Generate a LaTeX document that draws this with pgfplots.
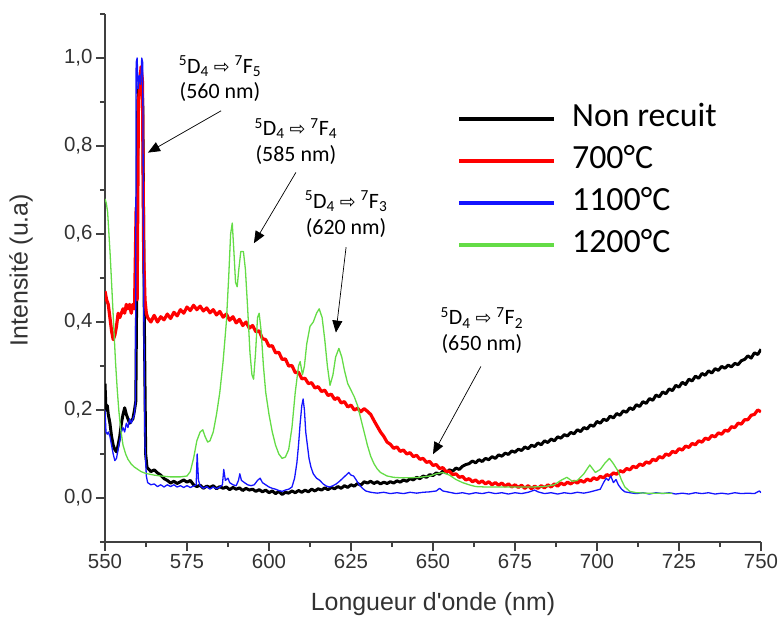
\documentclass[border=0pt]{standalone}
\usepackage{fontspec}
\setmainfont{Liberation Sans}
\newfontfamily\calfont{Carlito}
\newfontfamily\djfont{DejaVu Sans}
\usepackage{pgfplots}
\pgfplotsset{compat=1.18}
\usetikzlibrary{arrows.meta}
\definecolor{axgray}{RGB}{64,64,64}
\definecolor{lblgray}{RGB}{50,50,50}
\definecolor{mygreen}{RGB}{100,220,70}
\definecolor{myblue}{RGB}{20,20,255}
\definecolor{myred}{RGB}{255,0,0}
\newcommand{\tr}[1]{\textsuperscript{5}D\textsubscript{4} {\djfont\fontsize{19}{19}\selectfont ⇨} \textsuperscript{7}F\textsubscript{#1}}
\begin{document}
\begin{tikzpicture}
\path[use as bounding box] (0,0) rectangle (780bp,617bp);
\begin{axis}[
  at={(105bp,75bp)}, anchor=south west,
  scale only axis, width=656bp, height=528bp,
  xmin=550, xmax=750, ymin=-0.1, ymax=1.1,
  axis x line*=bottom, axis y line*=left,
  axis line style={-, line width=1.3bp, color=axgray},
  xtick={550,575,600,625,650,675,700,725,750},
  ytick={0,0.2,0.4,0.6,0.8,1.0},
  minor xtick={562.5,587.5,612.5,637.5,662.5,687.5,712.5,737.5},
  minor ytick={-0.1,0.1,0.3,0.5,0.7,0.9,1.1},
  tick align=outside, major tick length=9bp, minor tick length=5bp,
  every tick/.style={line width=1.3bp, color=axgray},
  tick label style={font=\fontsize{20.5}{24}\selectfont, color=lblgray},
  xticklabel style={/pgf/number format/.cd, fixed, precision=0, 1000 sep={}, assume math mode=true},
  yticklabel style={/pgf/number format/.cd, fixed, fixed zerofill, precision=1, use comma, assume math mode=true},
  xlabel={Longueur d\textquotesingle onde (nm)},
  ylabel={Intensité (u.a)},
  label style={font=\fontsize{25}{29}\selectfont, color=lblgray},
  xlabel style={at={(axis description cs:0.5,-0.1174)}, anchor=center},
  ylabel style={at={(axis description cs:-0.128,0.515)}, anchor=center},
  legend cell align=left,
  legend image code/.code={\draw[#1, line width=4bp] (0bp,0bp) -- (95bp,0bp);},
  legend style={draw=none, fill=none, inner sep=0pt, row sep=14bp,
    /tikz/column sep=6bp,
    font=\calfont\fontsize{34}{40}\selectfont,
    nodes={inner sep=0pt, inner xsep=10bp, text height=22bp, text depth=6bp},
    at={(axis cs:657.3,0.894)}, anchor=north west},
  line join=round,
]
% Non recuit
\addplot[black, line width=3bp] coordinates {
(550,0.26)(550.3,0.2)(550.7,0.21)(551,0.19)(551.5,0.17)(552,0.14)(552.5,0.12)(553,0.11)(553.5,0.105)(554,0.12)(554.5,0.14)(555,0.17)(555.5,0.19)(556,0.205)(556.5,0.19)(557,0.18)(557.5,0.17)(558,0.175)(558.5,0.18)(559,0.2)(559.4,0.22)(559.7,0.5)(560,0.9)(560.5,0.95)(561,0.97)(561.5,0.9)(562,0.4)(562.4,0.1)(562.8,0.07)
(563,0.068)(564,0.060)(565,0.064)(566,0.057)(567,0.052)(568,0.044)(569,0.040)(570,0.034)(571,0.038)(572,0.033)(573,0.037)(574,0.041)(575,0.036)(576,0.040)(577,0.030)(578,0.026)(579,0.029)(580,0.022)(581,0.027)(582,0.024)(583,0.028)(584,0.021)(585,0.026)(586,0.022)(587,0.025)(588,0.019)(589,0.024)(590,0.020)(591,0.023)(592,0.017)(593,0.022)(594,0.018)(595,0.020)(596,0.015)(597,0.019)(598,0.014)(599,0.018)(600,0.012)(601,0.016)(602,0.010)(603,0.015)(604,0.008)(605,0.013)(606,0.011)(607,0.016)(608,0.012)(609,0.017)(610,0.013)(611,0.018)(612,0.014)(613,0.020)(614,0.016)(615,0.021)(616,0.018)(617,0.023)(618,0.019)(619,0.024)(620,0.021)(621,0.026)(622,0.022)(623,0.028)(624,0.024)(625,0.030)(626,0.027)(627,0.033)(628,0.029)(629,0.037)(630,0.034)(631,0.038)(632,0.033)(633,0.037)(634,0.032)(635,0.036)(636,0.033)(637,0.037)(638,0.034)(639,0.039)(640,0.036)(641,0.041)(642,0.038)(643,0.044)(644,0.041)(645,0.047)(646,0.044)(647,0.050)(648,0.047)(649,0.053)(650,0.051)(651,0.057)(652,0.054)(653,0.061)(654,0.057)(655,0.064)(656,0.061)(657,0.068)(658,0.065)(659,0.072)(660,0.076)(661,0.078)(662,0.084)(663,0.080)(664,0.087)(665,0.083)(666,0.090)(667,0.087)(668,0.094)(669,0.090)(670,0.098)(671,0.095)(672,0.102)(673,0.099)(674,0.107)(675,0.104)(676,0.111)(677,0.108)(678,0.116)(679,0.112)(680,0.120)(681,0.117)(682,0.125)(683,0.121)(684,0.130)(685,0.126)(686,0.134)(687,0.130)(688,0.139)(689,0.136)(690,0.144)(691,0.141)(692,0.149)(693,0.146)(694,0.155)(695,0.151)(696,0.160)(697,0.157)(698,0.166)(699,0.163)(700,0.174)(701,0.170)(702,0.179)(703,0.176)(704,0.186)(705,0.182)(706,0.192)(707,0.188)(708,0.198)(709,0.195)(710,0.205)(711,0.201)(712,0.212)(713,0.208)(714,0.219)(715,0.215)(716,0.226)(717,0.222)(718,0.234)(719,0.230)(720,0.241)(721,0.237)(722,0.248)(723,0.244)(724,0.256)(725,0.252)(726,0.263)(727,0.258)(728,0.270)(729,0.266)(730,0.277)(731,0.272)(732,0.283)(733,0.279)(734,0.289)(735,0.284)(736,0.294)(737,0.290)(738,0.299)(739,0.295)(740,0.302)(741,0.298)(742,0.306)(743,0.303)(744,0.312)(745,0.315)(746,0.323)(747,0.318)(748,0.330)(749,0.326)(750,0.338)
};
\addlegendentry{Non recuit}
% 700 C
\addplot[myred, line width=3.2bp] coordinates {
(550,0.47)(550.5,0.45)(551,0.44)(551.5,0.41)(552,0.38)(552.5,0.36)(553,0.37)(553.5,0.39)(554,0.42)(554.5,0.41)(555,0.42)(555.5,0.43)(556,0.42)(556.5,0.44)(557,0.43)(557.5,0.44)(558,0.42)(558.5,0.44)(559,0.43)(559.5,0.66)(559.8,0.45)(560.2,0.9)(560.6,0.94)(561,0.98)(561.4,0.95)(561.8,0.55)(562.2,0.45)(562.6,0.42)
(563,0.410)(564,0.400)(565,0.415)(566,0.400)(567,0.412)(568,0.405)(569,0.418)(570,0.408)(571,0.422)(572,0.414)(573,0.428)(574,0.420)(575,0.434)(576,0.426)(577,0.438)(578,0.428)(579,0.436)(580,0.425)(581,0.432)(582,0.421)(583,0.428)(584,0.416)(585,0.424)(586,0.411)(587,0.418)(588,0.404)(589,0.412)(590,0.398)(591,0.406)(592,0.392)(593,0.400)(594,0.386)(595,0.392)(596,0.378)(597,0.380)(598,0.362)(599,0.360)(600,0.345)(601,0.346)(602,0.330)(603,0.331)(604,0.315)(605,0.316)(606,0.300)(607,0.301)(608,0.285)(609,0.286)(610,0.271)(611,0.272)(612,0.260)(613,0.262)(614,0.250)(615,0.253)(616,0.242)(617,0.245)(618,0.233)(619,0.236)(620,0.224)(621,0.228)(622,0.216)(623,0.219)(624,0.207)(625,0.211)(626,0.200)(627,0.204)(628,0.196)(629,0.203)(630,0.197)(631,0.190)(632,0.176)(633,0.163)(634,0.150)(635,0.140)(636,0.127)(637,0.122)(638,0.113)(639,0.116)(640,0.106)(641,0.109)(642,0.100)(643,0.103)(644,0.094)(645,0.097)(646,0.088)(647,0.090)(648,0.081)(649,0.083)(650,0.074)(651,0.076)(652,0.067)(653,0.069)(654,0.060)(655,0.061)(656,0.053)(657,0.055)(658,0.047)(659,0.049)(660,0.041)(661,0.044)(662,0.037)(663,0.041)(664,0.034)(665,0.039)(666,0.032)(667,0.037)(668,0.030)(669,0.035)(670,0.029)(671,0.034)(672,0.027)(673,0.032)(674,0.025)(675,0.030)(676,0.024)(677,0.029)(678,0.022)(679,0.028)(680,0.021)(681,0.027)(682,0.022)(683,0.028)(684,0.023)(685,0.030)(686,0.025)(687,0.032)(688,0.027)(689,0.034)(690,0.030)(691,0.036)(692,0.032)(693,0.038)(694,0.034)(695,0.040)(696,0.036)(697,0.043)(698,0.039)(699,0.046)(700,0.042)(701,0.049)(702,0.046)(703,0.053)(704,0.050)(705,0.057)(706,0.054)(707,0.062)(708,0.059)(709,0.067)(710,0.064)(711,0.072)(712,0.069)(713,0.077)(714,0.074)(715,0.082)(716,0.079)(717,0.088)(718,0.085)(719,0.094)(720,0.091)(721,0.100)(722,0.097)(723,0.106)(724,0.103)(725,0.112)(726,0.109)(727,0.118)(728,0.115)(729,0.124)(730,0.121)(731,0.130)(732,0.127)(733,0.136)(734,0.133)(735,0.142)(736,0.139)(737,0.148)(738,0.145)(739,0.154)(740,0.152)(741,0.162)(742,0.160)(743,0.170)(744,0.168)(745,0.178)(746,0.178)(747,0.188)(748,0.190)(749,0.200)(750,0.196)
};
\addlegendentry{700°C}
% 1100 C
\addplot[myblue, line width=1.3bp] coordinates {
(550,0.20)(550.3,0.15)(550.7,0.145)(551,0.15)(551.5,0.14)(552,0.12)(552.5,0.10)(553,0.085)(553.5,0.09)(554,0.11)(554.5,0.13)(555,0.15)(555.5,0.16)(556,0.15)(556.5,0.17)(557,0.16)(557.5,0.18)(558,0.17)(558.5,0.18)(559,0.19)(559.3,0.22)(559.5,0.99)(559.8,1.0)(560.1,0.93)(560.5,0.96)(560.9,0.94)(561.2,1.0)(561.5,0.99)(561.8,0.45)(562.2,0.12)(562.6,0.05)(563,0.035)(564,0.03)(565,0.032)(566,0.026)(567,0.03)(568,0.025)(569,0.03)(570,0.026)(571,0.03)(572,0.025)(573,0.028)(574,0.024)(575,0.028)(576,0.024)(577,0.027)(577.8,0.03)(578.1,0.10)(578.5,0.04)(579,0.028)(580,0.022)(581,0.026)(582,0.02)(583,0.025)(584,0.021)(585,0.025)(585.8,0.03)(586.2,0.065)(586.7,0.04)(587.5,0.045)(588,0.035)(589,0.03)(590,0.028)(590.7,0.04)(591.1,0.055)(591.6,0.04)(592.5,0.035)(593.5,0.03)(594.5,0.028)(595.5,0.03)(596.5,0.04)(597.3,0.045)(598,0.035)(599,0.03)(600,0.025)(601,0.022)(602,0.02)(603,0.017)(604,0.015)(605,0.018)(606,0.02)(607,0.025)(607.8,0.045)(608.5,0.08)(609,0.12)(609.5,0.17)(610,0.21)(610.4,0.225)(610.8,0.2)(611.2,0.15)(611.7,0.12)(612.2,0.09)(612.8,0.07)(613.5,0.055)(614.5,0.045)(615.5,0.04)(616.5,0.032)(617.5,0.027)(618.5,0.025)(619.5,0.028)(620.5,0.032)(621.5,0.038)(622.5,0.045)(623.5,0.052)(624.3,0.058)(625,0.052)(625.8,0.05)(626.5,0.042)(627.5,0.03)(628.5,0.022)(629.5,0.016)(631,0.013)(633,0.011)(635,0.013)(637,0.01)(639,0.012)(641,0.01)(643,0.013)(645,0.011)(647,0.013)(649,0.014)(651,0.016)(652,0.022)(653,0.016)(655,0.013)(657,0.01)(659,0.012)(661,0.009)(663,0.012)(665,0.01)(667,0.013)(669,0.01)(671,0.012)(673,0.009)(675,0.012)(677,0.01)(679,0.013)(681,0.018)(682,0.014)(684,0.01)(686,0.012)(688,0.009)(690,0.012)(692,0.01)(694,0.013)(696,0.011)(698,0.014)(700,0.018)(701,0.02)(702,0.035)(702.8,0.045)(703.5,0.04)(704.2,0.05)(705,0.035)(705.8,0.042)(706.5,0.03)(707.5,0.02)(708.5,0.014)(710,0.012)(712,0.01)(714,0.012)(716,0.009)(718,0.012)(720,0.01)(722,0.012)(724,0.009)(726,0.011)(728,0.009)(730,0.012)(732,0.01)(734,0.012)(736,0.009)(738,0.011)(740,0.009)(742,0.012)(744,0.01)(746,0.011)(748,0.01)(749.5,0.016)(750,0.012)
};
\addlegendentry{1100°C}
% 1200 C
\addplot[mygreen, line width=1.3bp] coordinates {
(550,0.68)(550.4,0.67)(550.8,0.65)(551.2,0.60)(551.6,0.55)(552,0.49)(552.4,0.43)(552.8,0.37)(553.2,0.31)(553.7,0.25)(554.2,0.20)(554.8,0.155)(555.5,0.12)(556.3,0.1)(557,0.088)(558,0.077)(559,0.07)(560,0.065)(561,0.06)(562,0.057)(563,0.055)(565,0.052)(567,0.05)(570,0.048)(573,0.048)(575,0.05)(576,0.06)(577,0.09)(578,0.13)(579,0.15)(579.8,0.155)(580.5,0.14)(581.3,0.127)(582,0.13)(583,0.15)(584,0.19)(585,0.24)(586,0.31)(587,0.4)(587.7,0.5)(588.3,0.6)(588.8,0.625)(589.3,0.56)(589.8,0.49)(590.3,0.48)(590.8,0.52)(591.4,0.56)(592.2,0.56)(592.8,0.52)(593.5,0.43)(594.2,0.33)(594.8,0.28)(595.3,0.27)(595.9,0.33)(596.5,0.41)(597,0.42)(597.6,0.38)(598.3,0.3)(599,0.24)(600,0.19)(601,0.15)(602,0.12)(603,0.1)(604,0.09)(605,0.093)(606,0.11)(607,0.16)(608,0.24)(609,0.3)(609.5,0.31)(610.2,0.28)(610.8,0.3)(611.5,0.35)(612.5,0.39)(613.5,0.4)(614.5,0.42)(615.3,0.43)(616.2,0.41)(617,0.36)(617.8,0.3)(618.6,0.256)(619.5,0.28)(620.3,0.32)(621.3,0.34)(622.2,0.32)(623,0.29)(624,0.26)(625,0.245)(626,0.23)(627,0.21)(628,0.18)(629,0.15)(630,0.12)(631,0.095)(632,0.078)(633,0.066)(634,0.058)(636,0.05)(638,0.047)(640,0.046)(643,0.046)(646,0.047)(649,0.05)(651,0.055)(653,0.058)(655,0.052)(657,0.042)(659,0.035)(661,0.03)(663,0.026)(666,0.025)(670,0.025)(675,0.025)(680,0.025)(684,0.026)(687,0.03)(689,0.04)(690.8,0.047)(692.5,0.038)(694,0.04)(696,0.055)(697.8,0.075)(699.5,0.058)(701,0.065)(702.5,0.08)(703.8,0.09)(705,0.078)(706.5,0.06)(707.5,0.04)(708.5,0.025)(710,0.015)(712,0.012)(715,0.011)(718,0.011)(721,0.011)(723,0.011)
};
\addlegendentry{1200°C}
% annotations
\begin{scope}[font=\calfont\fontsize{22}{26}\selectfont]
\node[align=center] at (axis cs:585.06,0.9525) {\tr{5}\\(560 nm)};
\node[align=center] at (axis cs:608.2,0.81) {\tr{4}\\(585 nm)};
\node[align=center] at (axis cs:623.5,0.645) {\tr{3}\\(620 nm)};
\node[align=center] at (axis cs:664.9,0.38) {\tr{2}\\(650 nm)};
\end{scope}
\begin{scope}[-{Triangle[length=12bp,width=10bp]}, line width=0.7bp]
\draw (axis cs:585.4,0.880) -- (axis cs:563.1,0.785);
\draw (axis cs:608.2,0.740) -- (axis cs:595.4,0.579);
\draw (axis cs:623.5,0.570) -- (axis cs:620.4,0.376);
\draw (axis cs:664.6,0.299) -- (axis cs:650.0,0.0995);
\end{scope}
\end{axis}
\end{tikzpicture}
\end{document}
